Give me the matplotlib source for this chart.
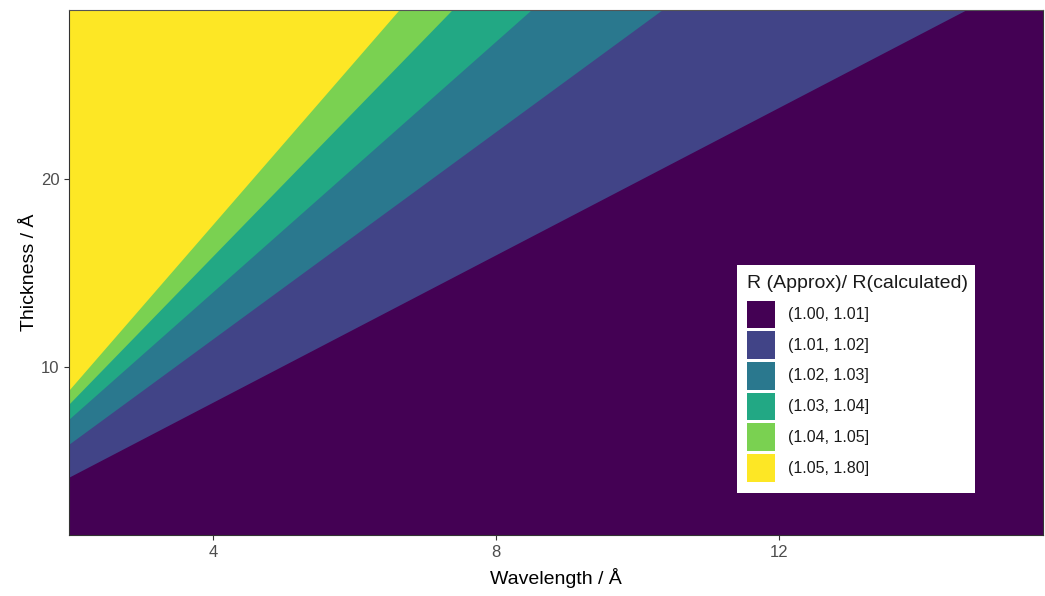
import matplotlib
matplotlib.use("Agg")
import matplotlib.pyplot as plt
from matplotlib.patches import Rectangle
import numpy as np

plt.rcParams['font.family'] = ['Liberation Sans', 'DejaVu Sans']

# Level boundaries: each boundary is a straight line through
# (x_left, y at left edge) and (x at top edge, y_top)
x_left = 1.965
y_top = 29.0
boundary_y_left = [4.10, 5.85, 7.18, 7.98, 8.72]   # purple/blue ... green/yellow
boundary_x_top = [14.66, 10.36, 8.51, 7.39, 6.64]

labels = ["(1.00, 1.01]", "(1.01, 1.02]", "(1.02, 1.03]",
          "(1.03, 1.04]", "(1.04, 1.05]", "(1.05, 1.80]"]
colors = ["#440154", "#414487", "#2A788E", "#22A884", "#7AD151", "#FDE725"]

xlim = (1.965, 15.73)
ylim = (1.06, 29.0)

W, H = 1045, 596
fig = plt.figure(figsize=(W/100, H/100), dpi=100)
ax = fig.add_axes([69/W, 1-535/H, (1043-69)/W, (535-10)/H])

xs = np.linspace(0, 20, 400)
lines = []
for yl, xt in zip(boundary_y_left, boundary_x_top):
    slope = (y_top - yl) / (xt - x_left)
    lines.append(yl + slope * (xs - x_left))
lows = [np.full_like(xs, -100)] + lines
top = np.full_like(xs, 100)
for lo, c in zip(lows, colors):
    ax.fill_between(xs, lo, top, color=c, linewidth=0)

ax.set_xlim(*xlim)
ax.set_ylim(*ylim)
ax.set_xticks([4, 8, 12])
ax.set_yticks([10, 20])
ax.tick_params(colors='#333333', labelcolor='#4D4D4D', labelsize=12, length=3.5, width=0.8)
for s in ax.spines.values():
    s.set_color('#333333')
    s.set_linewidth(0.8)
ax.spines['top'].set_color('#555555')
ax.set_xlabel("Wavelength / Å", fontsize=14, labelpad=6)
ax.set_ylabel("Thickness / Å", fontsize=14, labelpad=2)

# Legend drawn in figure pixel coordinates
def px(x, y):
    return x / W, 1 - y / H

bx0, by0, bx1, by1 = 737, 265, 975, 493
fig.patches.append(Rectangle(px(bx0, by1), (bx1-bx0)/W, (by1-by0)/H,
                             transform=fig.transFigure, facecolor='white',
                             edgecolor='none', zorder=5))
fig.text(*px(747, 283), "R (Approx)/ R(calculated)", fontsize=14,
         ha='left', va='center', color='#1a1a1a', zorder=6)
key_top0 = 300.7
pitch = 30.7
ksize = 27.7
for i, (lab, c) in enumerate(zip(labels, colors)):
    kt = key_top0 + i * pitch
    fig.patches.append(Rectangle(px(747, kt + ksize), ksize/W, ksize/H,
                                 transform=fig.transFigure, facecolor=c,
                                 edgecolor='none', zorder=6))
    fig.text(*px(788, kt + ksize/2), lab, fontsize=11.5, ha='left', va='center',
             color='#1a1a1a', zorder=7)

fig.savefig("out.png", dpi=100)
